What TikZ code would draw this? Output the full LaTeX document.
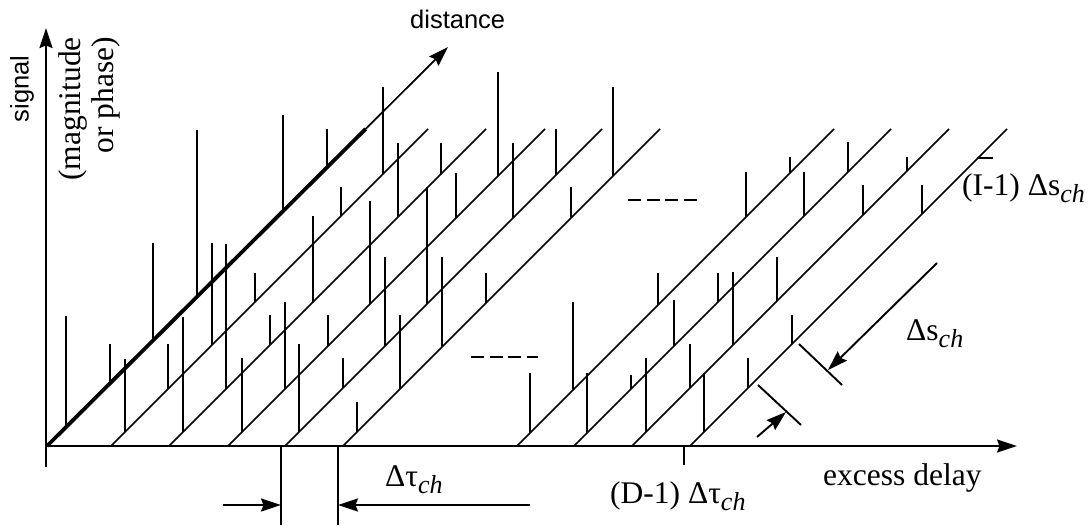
\documentclass[tikz,border=0pt]{standalone}
\usepackage{fontspec}
\setmainfont{Liberation Serif}
\setsansfont{Liberation Sans}
\usetikzlibrary{arrows.meta,calc}
\newcommand\chsub{\raisebox{-7pt}{\fontsize{26}{26}\selectfont\itshape ch}}
\tikzset{
  diag/.style={line width=1.7pt},
  thickdiag/.style={line width=3.8pt},
  stemline/.style={line width=1.9pt},
  axisline/.style={line width=2.2pt},
  dimline/.style={line width=1.9pt},
  tipped/.style={-{Stealth[length=20pt,width=13pt,inset=2.5pt]}},
  serif/.style={font=\fontsize{31.5}{33}\selectfont, inner sep=0pt},
  sans/.style={font=\sffamily\fontsize{25.5}{28}\selectfont, inner sep=0pt},
  dashrow/.style={line width=1.7pt, dash pattern=on 13pt off 5.7pt}
}
\begin{document}
\begin{tikzpicture}[x=1pt,y=-1pt]
\useasboundingbox (0,0) rectangle (1092,525);

% axes
\coordinate (O) at (46,446);
\coordinate (ybot) at (46,467);
\coordinate (ytip) at (46,28);
\coordinate (xtip) at (1017,446);
\draw[axisline,tipped] (ybot) -- (ytip);
\draw[axisline,tipped] (O) -- (xtip);

% distance axis (first slice, thick part + arrow)
\coordinate (dstart) at (47,446);
\coordinate (dtip) at (448,47);
\draw[diag,tipped] (dstart) -- (dtip);
\draw[thickdiag] (dstart) -- ($(dstart)!0.7945!(dtip)$);

% other slices
\foreach \xo in {111,169,228,285,343,517,574,632,690}
  \draw[diag] (\xo,446) -- ++(317,-317);

% stems: start x of slice / stem x / top y
\foreach \xo/\x/\t in {
  47/66/316, 47/110/344, 47/153/243, 47/197/130, 47/283/115, 47/327/129,
  111/125/359, 111/168/344, 111/212/243, 111/255/273, 111/341/187, 111/383/87,
  169/183/317, 169/226/244, 169/270/315, 169/313/216, 169/398/143, 169/441/143,
  228/242/358, 228/285/302, 228/328/315, 228/370/201, 228/456/173, 228/498/72,
  285/299/344, 285/343/358, 285/385/257, 285/427/187, 285/513/143, 285/556/129,
  343/357/402, 343/400/315, 343/442/257, 343/486/273, 343/571/187, 343/613/87,
  517/530/373, 517/573/302, 517/658/273, 517/746/172, 517/790/157,
  574/587/373, 574/631/375, 574/674/300, 574/718/273, 574/804/172, 574/848/142,
  632/646/358, 632/690/344, 632/733/272, 632/777/257, 632/863/185, 632/907/157,
  690/704/373, 690/748/358, 690/792/315, 690/922/185}
  \draw[stemline] (\x,{446-(\x-\xo)}) -- (\x,\t);

% omitted-slices dashes
\draw[dashrow] (628,200) -- (697,200);
\draw[dashrow] (471,357) -- (538,357);

% Delta tau dimension
\coordinate (ta) at (281,446);
\coordinate (tb) at (338,446);
\coordinate (ta2) at (281,525);
\coordinate (tb2) at (338,525);
\draw[dimline] (ta) -- (ta2);
\draw[dimline] (tb) -- (tb2);
\coordinate (la) at (223,505);
\coordinate (lb) at (530,505);
\draw[dimline,tipped] (la) -- (la -| ta);
\draw[dimline,tipped] (lb) -- (lb -| tb);
\node[serif, anchor=base west] (dtau) at (385,486) {Δτ\chsub};

% (D-1) tick
\coordinate (dk) at (684,446);
\coordinate (dk2) at (684,465);
\draw[dimline] (dk) -- (dk2);
\node[serif, anchor=base west] (dlab) at (610,503) {(D-1) Δτ\chsub};

% Delta s dimension
\coordinate (k1a) at (799,344);
\coordinate (k1b) at (842,385);
\coordinate (k2a) at (758,385);
\coordinate (k2b) at (801,425);
\draw[dimline] (k1a) -- (k1b);
\draw[dimline] (k2a) -- (k2b);
\coordinate (s1) at (937,263);
\coordinate (s1t) at (828,370);
\coordinate (s2) at (757,437);
\coordinate (s2t) at (786,412);
\draw[dimline,tipped] (s1) -- (s1t);
\draw[dimline,tipped] (s2) -- (s2t);
\node[serif, anchor=base west] (dslab) at (906,340) {Δs\chsub};

% (I-1) label with leader
\coordinate (ib1) at (977,158);
\coordinate (ib2) at (993,158);
\draw[diag] (ib1) -- (ib2);
\node[serif, anchor=base west] (ilab) at (962,195) {(I-1) Δs\chsub};

% axis labels
\node[serif, anchor=base west] (xlab) at (823,485) {excess delay};
\node[sans, anchor=base west] (distlab) at (410,28) {distance};
\node[sans, rotate=90] (siglab) at (22,89) {signal};
\node[serif, rotate=90, anchor=east, align=right] (maglab) at (89,37) {(magnitude\\or phase)};
\end{tikzpicture}
\end{document}
